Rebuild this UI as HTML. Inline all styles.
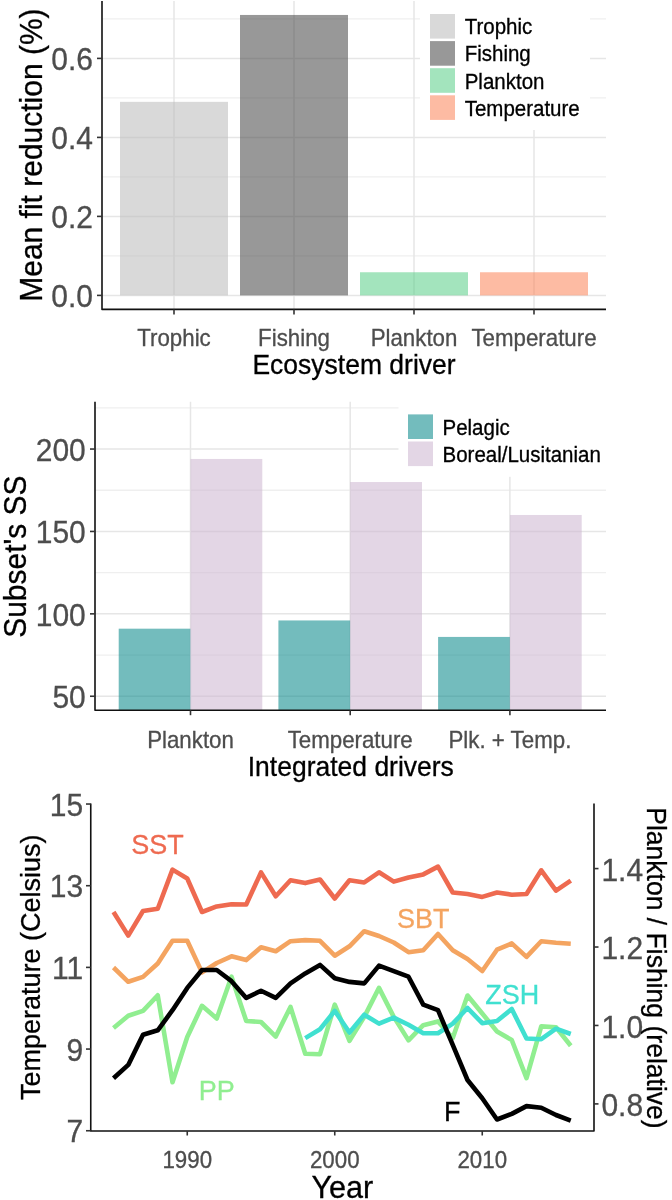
<!DOCTYPE html>
<html><head><meta charset="utf-8"><style>
html,body{margin:0;padding:0;background:#fff;width:672px;height:1200px;overflow:hidden;position:relative}
svg text{font-family:"Liberation Sans", sans-serif}
svg{will-change:transform}
</style></head><body>
<svg width="672" height="1200" viewBox="0 0 672 1200" style="position:absolute;left:0;top:0">
<rect x="0" y="0" width="672" height="1200" fill="#fff"/>
<line x1="102" x2="606" y1="255.90" y2="255.90" stroke="#efefef" stroke-width="1.3"/>
<line x1="102" x2="606" y1="176.90" y2="176.90" stroke="#efefef" stroke-width="1.3"/>
<line x1="102" x2="606" y1="97.90" y2="97.90" stroke="#efefef" stroke-width="1.3"/>
<line x1="102" x2="606" y1="18.90" y2="18.90" stroke="#efefef" stroke-width="1.3"/>
<line x1="102" x2="606" y1="295.40" y2="295.40" stroke="#e6e6e6" stroke-width="1.5"/>
<line x1="102" x2="606" y1="216.40" y2="216.40" stroke="#e6e6e6" stroke-width="1.5"/>
<line x1="102" x2="606" y1="137.40" y2="137.40" stroke="#e6e6e6" stroke-width="1.5"/>
<line x1="102" x2="606" y1="58.40" y2="58.40" stroke="#e6e6e6" stroke-width="1.5"/>
<line x1="174" x2="174" y1="1" y2="309.4" stroke="#e6e6e6" stroke-width="1.5"/>
<line x1="294" x2="294" y1="1" y2="309.4" stroke="#e6e6e6" stroke-width="1.5"/>
<line x1="414" x2="414" y1="1" y2="309.4" stroke="#e6e6e6" stroke-width="1.5"/>
<line x1="534" x2="534" y1="1" y2="309.4" stroke="#e6e6e6" stroke-width="1.5"/>
<rect x="120" y="101.85" width="108" height="193.55" fill="#bababa" fill-opacity="0.55"/>
<rect x="240" y="14.95" width="108" height="280.45" fill="#444444" fill-opacity="0.55"/>
<rect x="360" y="272.25" width="108" height="23.15" fill="#58ce87" fill-opacity="0.55"/>
<rect x="480" y="272.25" width="108" height="23.15" fill="#fb8358" fill-opacity="0.55"/>
<rect x="420" y="0" width="170" height="130" fill="#fff"/>
<rect x="430" y="14.00" width="25" height="24.6" fill="#d9d9d9"/>
<text transform="translate(464.70,34.30) scale(1,1.0407)" font-size="20.5" fill="#000" stroke="#000" stroke-width="0.3">Trophic</text>
<rect x="430" y="41.10" width="25" height="24.6" fill="#989898"/>
<text transform="translate(464.70,61.40) scale(1,1.0407)" font-size="20.5" fill="#000" stroke="#000" stroke-width="0.3">Fishing</text>
<rect x="430" y="68.20" width="25" height="24.6" fill="#a3e4bd"/>
<text transform="translate(464.70,88.50) scale(1,1.0407)" font-size="20.5" fill="#000" stroke="#000" stroke-width="0.3">Plankton</text>
<rect x="430" y="95.30" width="25" height="24.6" fill="#fdbba3"/>
<text transform="translate(464.70,115.60) scale(1,1.0407)" font-size="20.5" fill="#000" stroke="#000" stroke-width="0.3">Temperature</text>
<path d="M102,1 L102,309.4 L606,309.4" fill="none" stroke="#111" stroke-width="1.6" stroke-linejoin="round"/>
<line x1="97" x2="102" y1="295.40" y2="295.40" stroke="#333" stroke-width="1.6"/>
<text transform="translate(93.00,306.50) scale(1,1.0407)" font-size="30" fill="#4d4d4d" stroke="#4d4d4d" stroke-width="0.3" text-anchor="end">0.0</text>
<line x1="97" x2="102" y1="216.40" y2="216.40" stroke="#333" stroke-width="1.6"/>
<text transform="translate(93.00,227.50) scale(1,1.0407)" font-size="30" fill="#4d4d4d" stroke="#4d4d4d" stroke-width="0.3" text-anchor="end">0.2</text>
<line x1="97" x2="102" y1="137.40" y2="137.40" stroke="#333" stroke-width="1.6"/>
<text transform="translate(93.00,148.50) scale(1,1.0407)" font-size="30" fill="#4d4d4d" stroke="#4d4d4d" stroke-width="0.3" text-anchor="end">0.4</text>
<line x1="97" x2="102" y1="58.40" y2="58.40" stroke="#333" stroke-width="1.6"/>
<text transform="translate(93.00,69.50) scale(1,1.0407)" font-size="30" fill="#4d4d4d" stroke="#4d4d4d" stroke-width="0.3" text-anchor="end">0.6</text>
<line x1="174" x2="174" y1="309.4" y2="314.4" stroke="#333" stroke-width="1.6"/>
<text transform="translate(174.00,345.70) scale(1,1.0407)" font-size="22.3" fill="#4d4d4d" stroke="#4d4d4d" stroke-width="0.3" text-anchor="middle">Trophic</text>
<line x1="294" x2="294" y1="309.4" y2="314.4" stroke="#333" stroke-width="1.6"/>
<text transform="translate(294.00,345.70) scale(1,1.0407)" font-size="22.3" fill="#4d4d4d" stroke="#4d4d4d" stroke-width="0.3" text-anchor="middle">Fishing</text>
<line x1="414" x2="414" y1="309.4" y2="314.4" stroke="#333" stroke-width="1.6"/>
<text transform="translate(414.00,345.70) scale(1,1.0407)" font-size="22.3" fill="#4d4d4d" stroke="#4d4d4d" stroke-width="0.3" text-anchor="middle">Plankton</text>
<line x1="534" x2="534" y1="309.4" y2="314.4" stroke="#333" stroke-width="1.6"/>
<text transform="translate(534.00,345.70) scale(1,1.0407)" font-size="22.3" fill="#4d4d4d" stroke="#4d4d4d" stroke-width="0.3" text-anchor="middle">Temperature</text>
<text transform="translate(354.00,374.20) scale(1,1.0407)" font-size="26.5" fill="#000" stroke="#000" stroke-width="0.3" text-anchor="middle">Ecosystem driver</text>
<text transform="translate(42.10,155.10) rotate(-90) scale(1,1.0407)" font-size="30" fill="#000" stroke="#000" stroke-width="0.3" text-anchor="middle">Mean fit reduction (%)</text>
<line x1="95" x2="606" y1="655.05" y2="655.05" stroke="#efefef" stroke-width="1.3"/>
<line x1="95" x2="606" y1="572.65" y2="572.65" stroke="#efefef" stroke-width="1.3"/>
<line x1="95" x2="606" y1="490.25" y2="490.25" stroke="#efefef" stroke-width="1.3"/>
<line x1="95" x2="606" y1="407.85" y2="407.85" stroke="#efefef" stroke-width="1.3"/>
<line x1="95" x2="606" y1="696.25" y2="696.25" stroke="#e6e6e6" stroke-width="1.5"/>
<line x1="95" x2="606" y1="613.85" y2="613.85" stroke="#e6e6e6" stroke-width="1.5"/>
<line x1="95" x2="606" y1="531.45" y2="531.45" stroke="#e6e6e6" stroke-width="1.5"/>
<line x1="95" x2="606" y1="449.05" y2="449.05" stroke="#e6e6e6" stroke-width="1.5"/>
<line x1="190.5" x2="190.5" y1="401.75" y2="710.2" stroke="#e6e6e6" stroke-width="1.5"/>
<line x1="350.2" x2="350.2" y1="401.75" y2="710.2" stroke="#e6e6e6" stroke-width="1.5"/>
<line x1="509.9" x2="509.9" y1="401.75" y2="710.2" stroke="#e6e6e6" stroke-width="1.5"/>
<rect x="118.70" y="628.68" width="71.8" height="81.52" fill="#008587" fill-opacity="0.55"/>
<rect x="190.50" y="458.94" width="71.8" height="251.26" fill="#ccb4d0" fill-opacity="0.55"/>
<rect x="278.40" y="620.44" width="71.8" height="89.76" fill="#008587" fill-opacity="0.55"/>
<rect x="350.20" y="482.01" width="71.8" height="228.19" fill="#ccb4d0" fill-opacity="0.55"/>
<rect x="438.10" y="636.92" width="71.8" height="73.28" fill="#008587" fill-opacity="0.55"/>
<rect x="509.90" y="514.97" width="71.8" height="195.23" fill="#ccb4d0" fill-opacity="0.55"/>
<rect x="398.5" y="400" width="212" height="76.8" fill="#fff"/>
<rect x="408" y="414.40" width="25" height="24.6" fill="#73bcbd"/>
<text transform="translate(442.50,434.70) scale(1,1.0407)" font-size="20.5" fill="#000" stroke="#000" stroke-width="0.3">Pelagic</text>
<rect x="408" y="441.50" width="25" height="24.6" fill="#e3d6e5"/>
<text transform="translate(442.50,461.80) scale(1,1.0407)" font-size="20.5" fill="#000" stroke="#000" stroke-width="0.3">Boreal/Lusitanian</text>
<path d="M95,401.75 L95,710.2 L606,710.2" fill="none" stroke="#111" stroke-width="1.6" stroke-linejoin="round"/>
<line x1="90" x2="95" y1="696.25" y2="696.25" stroke="#333" stroke-width="1.6"/>
<text transform="translate(85.80,708.15) scale(1,1.0407)" font-size="30" fill="#4d4d4d" stroke="#4d4d4d" stroke-width="0.3" text-anchor="end">50</text>
<line x1="90" x2="95" y1="613.85" y2="613.85" stroke="#333" stroke-width="1.6"/>
<text transform="translate(85.80,625.75) scale(1,1.0407)" font-size="30" fill="#4d4d4d" stroke="#4d4d4d" stroke-width="0.3" text-anchor="end">100</text>
<line x1="90" x2="95" y1="531.45" y2="531.45" stroke="#333" stroke-width="1.6"/>
<text transform="translate(85.80,543.35) scale(1,1.0407)" font-size="30" fill="#4d4d4d" stroke="#4d4d4d" stroke-width="0.3" text-anchor="end">150</text>
<line x1="90" x2="95" y1="449.05" y2="449.05" stroke="#333" stroke-width="1.6"/>
<text transform="translate(85.80,460.95) scale(1,1.0407)" font-size="30" fill="#4d4d4d" stroke="#4d4d4d" stroke-width="0.3" text-anchor="end">200</text>
<line x1="190.5" x2="190.5" y1="710.2" y2="715.2" stroke="#333" stroke-width="1.6"/>
<text transform="translate(190.50,747.50) scale(1,1.0407)" font-size="22.3" fill="#4d4d4d" stroke="#4d4d4d" stroke-width="0.3" text-anchor="middle">Plankton</text>
<line x1="350.2" x2="350.2" y1="710.2" y2="715.2" stroke="#333" stroke-width="1.6"/>
<text transform="translate(350.20,747.50) scale(1,1.0407)" font-size="22.3" fill="#4d4d4d" stroke="#4d4d4d" stroke-width="0.3" text-anchor="middle">Temperature</text>
<line x1="509.9" x2="509.9" y1="710.2" y2="715.2" stroke="#333" stroke-width="1.6"/>
<text transform="translate(509.90,747.50) scale(1,1.0407)" font-size="22.3" fill="#4d4d4d" stroke="#4d4d4d" stroke-width="0.3" text-anchor="middle">Plk. + Temp.</text>
<text transform="translate(350.80,775.70) scale(1,1.0407)" font-size="26.5" fill="#000" stroke="#000" stroke-width="0.3" text-anchor="middle">Integrated drivers</text>
<text transform="translate(26.30,556.60) rotate(-90) scale(1,1.0407)" font-size="30" fill="#000" stroke="#000" stroke-width="0.3" text-anchor="middle">Subset&#39;s SS</text>
<polyline points="113.50,912.00 128.25,935.60 143.00,911.00 157.75,908.80 172.50,869.60 187.25,878.50 202.00,912.00 216.75,906.40 231.50,904.20 246.25,904.50 261.00,872.40 275.75,896.25 290.50,880.20 305.25,883.10 320.00,879.50 334.75,898.50 349.50,880.20 364.25,882.40 379.00,872.30 393.75,881.60 408.50,877.50 423.25,874.40 438.00,866.60 452.75,892.50 467.50,894.00 482.25,896.90 497.00,892.50 511.75,894.70 526.50,894.00 541.25,870.30 556.00,890.60 570.75,880.60" fill="none" stroke="#ee6a50" stroke-width="4.6" stroke-linejoin="round" stroke-linecap="butt"/>
<polyline points="113.50,967.50 128.25,981.80 143.00,976.90 157.75,963.50 172.50,940.70 187.25,940.70 202.00,972.40 216.75,963.00 231.50,956.30 246.25,960.10 261.00,947.20 275.75,951.25 290.50,941.20 305.25,940.10 320.00,940.80 334.75,955.70 349.50,946.30 364.25,931.20 379.00,936.00 393.75,942.50 408.50,952.20 423.25,950.30 438.00,934.00 452.75,950.30 467.50,959.00 482.25,971.00 497.00,949.70 511.75,943.40 526.50,956.90 541.25,941.25 556.00,942.80 570.75,943.75" fill="none" stroke="#f4a460" stroke-width="4.6" stroke-linejoin="round" stroke-linecap="butt"/>
<polyline points="113.50,1028.00 128.25,1015.80 143.00,1010.90 157.75,995.30 172.50,1082.30 187.25,1037.00 202.00,1005.80 216.75,1018.50 231.50,976.70 246.25,1021.00 261.00,1022.00 275.75,1036.60 290.50,1006.90 305.25,1053.75 320.00,1054.20 334.75,1004.60 349.50,1040.80 364.25,1016.90 379.00,987.90 393.75,1016.90 408.50,1040.40 423.25,1025.20 438.00,1021.40 452.75,1038.10 467.50,995.50 482.25,1013.50 497.00,1031.50 511.75,1040.00 526.50,1078.20 541.25,1026.40 556.00,1027.30 570.75,1045.80" fill="none" stroke="#90ee90" stroke-width="4.6" stroke-linejoin="round" stroke-linecap="butt"/>
<polyline points="305.25,1038.10 320.00,1029.20 334.75,1010.90 349.50,1032.50 364.25,1014.70 379.00,1023.60 393.75,1017.60 408.50,1024.70 423.25,1033.20 438.00,1033.20 452.75,1023.60 467.50,1008.00 482.25,1023.20 497.00,1021.00 511.75,1009.00 526.50,1038.50 541.25,1039.20 556.00,1028.70 570.75,1034.00" fill="none" stroke="#40e0d0" stroke-width="4.6" stroke-linejoin="round" stroke-linecap="butt"/>
<polyline points="113.50,1078.30 128.25,1064.90 143.00,1034.80 157.75,1030.30 172.50,1010.20 187.25,987.90 202.00,970.00 216.75,970.00 231.50,981.20 246.25,997.90 261.00,990.80 275.75,997.90 290.50,983.40 305.25,973.40 320.00,964.90 334.75,978.30 349.50,981.90 364.25,983.40 379.00,965.60 393.75,971.20 408.50,976.70 423.25,1004.60 438.00,1010.20 452.75,1044.80 467.50,1080.00 482.25,1098.30 497.00,1119.50 511.75,1113.90 526.50,1106.10 541.25,1107.70 556.00,1115.00 570.75,1120.60" fill="none" stroke="#000" stroke-width="4.6" stroke-linejoin="round" stroke-linecap="butt"/>
<text transform="translate(131.30,854.00) scale(1,1.0407)" font-size="27" fill="#ee6a50" stroke="#ee6a50" stroke-width="0.3">SST</text>
<text transform="translate(397.00,927.90) scale(1,1.0407)" font-size="27" fill="#f4a460" stroke="#f4a460" stroke-width="0.3">SBT</text>
<text transform="translate(198.70,1100.30) scale(1,1.0407)" font-size="27" fill="#90ee90" stroke="#90ee90" stroke-width="0.3">PP</text>
<text transform="translate(485.20,1004.00) scale(1,1.0407)" font-size="27" fill="#40e0d0" stroke="#40e0d0" stroke-width="0.3">ZSH</text>
<text transform="translate(444.00,1121.00) scale(1,1.0407)" font-size="27" fill="#000" stroke="#000" stroke-width="0.3">F</text>
<path d="M90.75,803.5 L90.75,1131 L594,1131 L594,803.5" fill="none" stroke="#111" stroke-width="1.6" stroke-linejoin="round"/>
<line x1="86" x2="90.75" y1="1130.75" y2="1130.75" stroke="#333" stroke-width="1.6"/>
<text transform="translate(83.20,1142.35) scale(1,1.0407)" font-size="30" fill="#4d4d4d" stroke="#4d4d4d" stroke-width="0.3" text-anchor="end">7</text>
<line x1="86" x2="90.75" y1="1049.07" y2="1049.07" stroke="#333" stroke-width="1.6"/>
<text transform="translate(83.20,1060.67) scale(1,1.0407)" font-size="30" fill="#4d4d4d" stroke="#4d4d4d" stroke-width="0.3" text-anchor="end">9</text>
<line x1="86" x2="90.75" y1="967.39" y2="967.39" stroke="#333" stroke-width="1.6"/>
<text transform="translate(83.20,978.99) scale(1,1.0407)" font-size="30" fill="#4d4d4d" stroke="#4d4d4d" stroke-width="0.3" text-anchor="end">11</text>
<line x1="86" x2="90.75" y1="885.71" y2="885.71" stroke="#333" stroke-width="1.6"/>
<text transform="translate(83.20,897.31) scale(1,1.0407)" font-size="30" fill="#4d4d4d" stroke="#4d4d4d" stroke-width="0.3" text-anchor="end">13</text>
<line x1="86" x2="90.75" y1="804.03" y2="804.03" stroke="#333" stroke-width="1.6"/>
<text transform="translate(83.20,815.63) scale(1,1.0407)" font-size="30" fill="#4d4d4d" stroke="#4d4d4d" stroke-width="0.3" text-anchor="end">15</text>
<line x1="594" x2="598.5" y1="1103.90" y2="1103.90" stroke="#333" stroke-width="1.6"/>
<text transform="translate(601.40,1116.20) scale(1,1.0407)" font-size="30" fill="#4d4d4d" stroke="#4d4d4d" stroke-width="0.3">0.8</text>
<line x1="594" x2="598.5" y1="1025.46" y2="1025.46" stroke="#333" stroke-width="1.6"/>
<text transform="translate(601.40,1037.76) scale(1,1.0407)" font-size="30" fill="#4d4d4d" stroke="#4d4d4d" stroke-width="0.3">1.0</text>
<line x1="594" x2="598.5" y1="947.02" y2="947.02" stroke="#333" stroke-width="1.6"/>
<text transform="translate(601.40,959.32) scale(1,1.0407)" font-size="30" fill="#4d4d4d" stroke="#4d4d4d" stroke-width="0.3">1.2</text>
<line x1="594" x2="598.5" y1="868.58" y2="868.58" stroke="#333" stroke-width="1.6"/>
<text transform="translate(601.40,880.88) scale(1,1.0407)" font-size="30" fill="#4d4d4d" stroke="#4d4d4d" stroke-width="0.3">1.4</text>
<line x1="187.25" x2="187.25" y1="1131" y2="1135.5" stroke="#333" stroke-width="1.6"/>
<text transform="translate(187.25,1168.00) scale(1,1.0407)" font-size="22.3" fill="#4d4d4d" stroke="#4d4d4d" stroke-width="0.3" text-anchor="middle">1990</text>
<line x1="334.75" x2="334.75" y1="1131" y2="1135.5" stroke="#333" stroke-width="1.6"/>
<text transform="translate(334.75,1168.00) scale(1,1.0407)" font-size="22.3" fill="#4d4d4d" stroke="#4d4d4d" stroke-width="0.3" text-anchor="middle">2000</text>
<line x1="482.25" x2="482.25" y1="1131" y2="1135.5" stroke="#333" stroke-width="1.6"/>
<text transform="translate(482.25,1168.00) scale(1,1.0407)" font-size="22.3" fill="#4d4d4d" stroke="#4d4d4d" stroke-width="0.3" text-anchor="middle">2010</text>
<text transform="translate(342.35,1198.20) scale(1,1.0407)" font-size="30.6" fill="#000" stroke="#000" stroke-width="0.3" text-anchor="middle">Year</text>
<text transform="translate(39.80,967.35) rotate(-90) scale(1,1.0407)" font-size="27" fill="#000" stroke="#000" stroke-width="0.3" text-anchor="middle">Temperature (Celsius)</text>
<text transform="translate(647.30,967.95) rotate(90) scale(1,1.0407)" font-size="26.55" fill="#000" stroke="#000" stroke-width="0.3" text-anchor="middle">Plankton / Fishing (relative)</text>
</svg>
</body></html>
